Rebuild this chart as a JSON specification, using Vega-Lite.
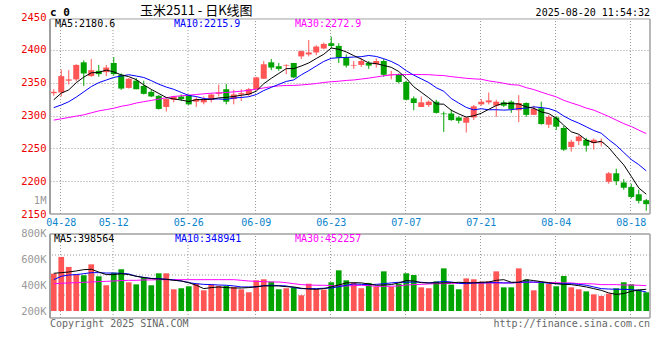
{
  "$schema": "https://vega.github.io/schema/vega-lite/v6.json",
  "autosize": "none",
  "width": 600,
  "height": 301,
  "padding": {"left": 50, "top": 17, "right": 10, "bottom": 42},
  "background": "white",
  "config": {"view": {"stroke": null}, "font": "DejaVu Sans Mono", "text": {"font": "DejaVu Sans Mono", "fontSize": 10}},
  "data": {"values": [
    {"d":"04-25","o":2334,"h":2340,"l":2330,"c":2336,"ma5":2324,"ma10":2312,"ma30":2293,"v":487000,"vma5":490000,"vma10":441000,"vma30":410000},
    {"d":"04-28","o":2335,"h":2370,"l":2329,"c":2360,"ma5":2334,"ma10":2316,"ma30":2295,"v":616000,"vma5":495000,"vma10":467000,"vma30":413000},
    {"d":"04-29","o":2353,"h":2369,"l":2347,"c":2355,"ma5":2339,"ma10":2321,"ma30":2297,"v":539000,"vma5":500000,"vma10":477000,"vma30":416000},
    {"d":"04-30","o":2355,"h":2378,"l":2352,"c":2377,"ma5":2350,"ma10":2328,"ma30":2299,"v":480000,"vma5":508000,"vma10":480000,"vma30":418000},
    {"d":"05-06","o":2381,"h":2384,"l":2345,"c":2364,"ma5":2358.4,"ma10":2336,"ma30":2301,"v":475000,"vma5":518000,"vma10":487000,"vma30":421000},
    {"d":"05-07","o":2360,"h":2386,"l":2359,"c":2369,"ma5":2365,"ma10":2344,"ma30":2304,"v":559000,"vma5":521000,"vma10":495000,"vma30":423000},
    {"d":"05-08","o":2368,"h":2377,"l":2359,"c":2363,"ma5":2365.6,"ma10":2350,"ma30":2307,"v":467000,"vma5":500000,"vma10":495000,"vma30":426000},
    {"d":"05-09","o":2366,"h":2377,"l":2360,"c":2373,"ma5":2369.2,"ma10":2354,"ma30":2309,"v":398000,"vma5":480000,"vma10":492000,"vma30":428000},
    {"d":"05-12","o":2380,"h":2389,"l":2361,"c":2363,"ma5":2366.4,"ma10":2358,"ma30":2311,"v":495000,"vma5":480000,"vma10":492000,"vma30":431000},
    {"d":"05-13","o":2362,"h":2364,"l":2339,"c":2341,"ma5":2361.8,"ma10":2360.1,"ma30":2314,"v":521000,"vma5":487000,"vma10":490000,"vma30":434000},
    {"d":"05-14","o":2342,"h":2357,"l":2341,"c":2356,"ma5":2359.2,"ma10":2362.1,"ma30":2316,"v":421000,"vma5":480000,"vma10":485000,"vma30":436000},
    {"d":"05-15","o":2353,"h":2357,"l":2340,"c":2340,"ma5":2354.6,"ma10":2360.1,"ma30":2319,"v":405000,"vma5":467000,"vma10":467000,"vma30":436000},
    {"d":"05-16","o":2345,"h":2353,"l":2332,"c":2333,"ma5":2346.6,"ma10":2357.9,"ma30":2321,"v":457000,"vma5":457000,"vma10":459000,"vma30":439000},
    {"d":"05-19","o":2336,"h":2339,"l":2328,"c":2329,"ma5":2339.8,"ma10":2353.1,"ma30":2323,"v":398000,"vma5":449000,"vma10":451000,"vma30":439000},
    {"d":"05-20","o":2330,"h":2331,"l":2309,"c":2310,"ma5":2333.6,"ma10":2347.7,"ma30":2325,"v":490000,"vma5":446000,"vma10":449000,"vma30":441000},
    {"d":"05-21","o":2313,"h":2328,"l":2306,"c":2325,"ma5":2327.4,"ma10":2343.3,"ma30":2327,"v":490000,"vma5":444000,"vma10":444000,"vma30":441000},
    {"d":"05-22","o":2324,"h":2330,"l":2320,"c":2329,"ma5":2325.2,"ma10":2339.9,"ma30":2329,"v":367000,"vma5":436000,"vma10":439000,"vma30":441000},
    {"d":"05-23","o":2329,"h":2332,"l":2322,"c":2325,"ma5":2323.6,"ma10":2335.1,"ma30":2330,"v":375000,"vma5":431000,"vma10":431000,"vma30":441000},
    {"d":"05-26","o":2331,"h":2332,"l":2316,"c":2317,"ma5":2321.2,"ma10":2330.5,"ma30":2331,"v":390000,"vma5":418000,"vma10":418000,"vma30":441000},
    {"d":"05-27","o":2321,"h":2328,"l":2313,"c":2325,"ma5":2324.2,"ma10":2328.9,"ma30":2332,"v":410000,"vma5":398000,"vma10":410000,"vma30":441000},
    {"d":"05-28","o":2320,"h":2329,"l":2317,"c":2325,"ma5":2324.2,"ma10":2325.8,"ma30":2333,"v":359000,"vma5":372000,"vma10":405000,"vma30":441000},
    {"d":"05-29","o":2324,"h":2334,"l":2320,"c":2332,"ma5":2324.8,"ma10":2325.0,"ma30":2334,"v":405000,"vma5":380000,"vma10":403000,"vma30":441000},
    {"d":"05-30","o":2333,"h":2347,"l":2329,"c":2335,"ma5":2326.8,"ma10":2325.2,"ma30":2334.5,"v":393000,"vma5":385000,"vma10":400000,"vma30":441000},
    {"d":"06-03","o":2340,"h":2348,"l":2317,"c":2321,"ma5":2327.6,"ma10":2324.4,"ma30":2335,"v":393000,"vma5":380000,"vma10":398000,"vma30":441000},
    {"d":"06-04","o":2325,"h":2339,"l":2317,"c":2332,"ma5":2329,"ma10":2326.6,"ma30":2336,"v":385000,"vma5":377000,"vma10":393000,"vma30":441000},
    {"d":"06-05","o":2332,"h":2340,"l":2322,"c":2334,"ma5":2330.8,"ma10":2327.5,"ma30":2337,"v":367000,"vma5":377000,"vma10":385000,"vma30":436000},
    {"d":"06-06","o":2332,"h":2342,"l":2330,"c":2340,"ma5":2332.4,"ma10":2328.6,"ma30":2338.5,"v":344000,"vma5":380000,"vma10":385000,"vma30":431000},
    {"d":"06-09","o":2340,"h":2359,"l":2340,"c":2358,"ma5":2337,"ma10":2331.9,"ma30":2340,"v":436000,"vma5":387000,"vma10":385000,"vma30":428000},
    {"d":"06-10","o":2356,"h":2383,"l":2356,"c":2378,"ma5":2348.4,"ma10":2338.0,"ma30":2342,"v":444000,"vma5":393000,"vma10":395000,"vma30":426000},
    {"d":"06-11","o":2381,"h":2386,"l":2369,"c":2373,"ma5":2356.6,"ma10":2342.8,"ma30":2343.9,"v":426000,"vma5":393000,"vma10":398000,"vma30":423000},
    {"d":"06-12","o":2375,"h":2380,"l":2368,"c":2371,"ma5":2364,"ma10":2347.4,"ma30":2345.1,"v":367000,"vma5":393000,"vma10":395000,"vma30":423000},
    {"d":"06-13","o":2376,"h":2378,"l":2363,"c":2377,"ma5":2371.4,"ma10":2351.9,"ma30":2345.7,"v":375000,"vma5":387000,"vma10":393000,"vma30":418000},
    {"d":"06-16","o":2380,"h":2380,"l":2357,"c":2358,"ma5":2371.4,"ma10":2354.2,"ma30":2345.8,"v":380000,"vma5":385000,"vma10":380000,"vma30":410000},
    {"d":"06-17","o":2390,"h":2399,"l":2386,"c":2398,"ma5":2375.4,"ma10":2361.9,"ma30":2346.5,"v":321000,"vma5":375000,"vma10":372000,"vma30":403000},
    {"d":"06-18","o":2393,"h":2415,"l":2390,"c":2396,"ma5":2380,"ma10":2368.3,"ma30":2347.5,"v":410000,"vma5":369000,"vma10":372000,"vma30":400000},
    {"d":"06-19","o":2396,"h":2407,"l":2392,"c":2405,"ma5":2386.8,"ma10":2375.4,"ma30":2348.7,"v":369000,"vma5":367000,"vma10":372000,"vma30":398000},
    {"d":"06-20","o":2402,"h":2411,"l":2401,"c":2409,"ma5":2393.2,"ma10":2382.3,"ma30":2350.3,"v":364000,"vma5":372000,"vma10":375000,"vma30":398000},
    {"d":"06-23","o":2410,"h":2420,"l":2402,"c":2406,"ma5":2402.8,"ma10":2387.1,"ma30":2351.4,"v":421000,"vma5":385000,"vma10":377000,"vma30":395000},
    {"d":"06-24","o":2406,"h":2410,"l":2380,"c":2388,"ma5":2400.8,"ma10":2388.1,"ma30":2352.2,"v":513000,"vma5":400000,"vma10":387000,"vma30":393000},
    {"d":"06-25","o":2389,"h":2393,"l":2373,"c":2376,"ma5":2396.8,"ma10":2388.4,"ma30":2353.4,"v":436000,"vma5":416000,"vma10":398000,"vma30":393000},
    {"d":"06-26","o":2376,"h":2383,"l":2371,"c":2377,"ma5":2391.2,"ma10":2389.0,"ma30":2354.1,"v":416000,"vma5":418000,"vma10":408000,"vma30":395000},
    {"d":"06-27","o":2377,"h":2387,"l":2374,"c":2383,"ma5":2386,"ma10":2389.6,"ma30":2355.5,"v":375000,"vma5":416000,"vma10":405000,"vma30":398000},
    {"d":"06-30","o":2380,"h":2383,"l":2371,"c":2376,"ma5":2380,"ma10":2391.4,"ma30":2356.9,"v":416000,"vma5":408000,"vma10":403000,"vma30":395000},
    {"d":"07-01","o":2378,"h":2387,"l":2373,"c":2383,"ma5":2379,"ma10":2389.9,"ma30":2358.7,"v":387000,"vma5":398000,"vma10":405000,"vma30":390000},
    {"d":"07-02","o":2383,"h":2386,"l":2359,"c":2362,"ma5":2376.2,"ma10":2386.5,"ma30":2360.5,"v":505000,"vma5":400000,"vma10":410000,"vma30":390000},
    {"d":"07-03","o":2362,"h":2368,"l":2355,"c":2363,"ma5":2373.4,"ma10":2382.3,"ma30":2361.7,"v":385000,"vma5":403000,"vma10":416000,"vma30":390000},
    {"d":"07-04","o":2363,"h":2364,"l":2349,"c":2351,"ma5":2367,"ma10":2376.5,"ma30":2362.5,"v":410000,"vma5":416000,"vma10":421000,"vma30":393000},
    {"d":"07-07","o":2351,"h":2353,"l":2323,"c":2324,"ma5":2356.6,"ma10":2368.3,"ma30":2362.4,"v":490000,"vma5":434000,"vma10":421000,"vma30":400000},
    {"d":"07-08","o":2326,"h":2329,"l":2308,"c":2319,"ma5":2343.8,"ma10":2361.4,"ma30":2362.5,"v":477000,"vma5":431000,"vma10":423000,"vma30":403000},
    {"d":"07-09","o":2313,"h":2329,"l":2313,"c":2320,"ma5":2335.4,"ma10":2355.8,"ma30":2362.3,"v":382000,"vma5":418000,"vma10":421000,"vma30":405000},
    {"d":"07-10","o":2316,"h":2323,"l":2313,"c":2321,"ma5":2327,"ma10":2350.2,"ma30":2362.2,"v":375000,"vma5":416000,"vma10":416000,"vma30":408000},
    {"d":"07-11","o":2321,"h":2324,"l":2303,"c":2304,"ma5":2317.6,"ma10":2342.3,"ma30":2361.3,"v":428000,"vma5":416000,"vma10":421000,"vma30":410000},
    {"d":"07-14","o":2303,"h":2306,"l":2275,"c":2302,"ma5":2317.2,"ma10":2336.9,"ma30":2360.8,"v":528000,"vma5":416000,"vma10":428000,"vma30":410000},
    {"d":"07-15","o":2303,"h":2309,"l":2292,"c":2293,"ma5":2308,"ma10":2325.9,"ma30":2359.2,"v":403000,"vma5":418000,"vma10":423000,"vma30":413000},
    {"d":"07-16","o":2297,"h":2299,"l":2288,"c":2292,"ma5":2302.4,"ma10":2318.9,"ma30":2357.9,"v":367000,"vma5":421000,"vma10":413000,"vma30":413000},
    {"d":"07-17","o":2289,"h":2298,"l":2274,"c":2297,"ma5":2297.6,"ma10":2312.3,"ma30":2356.7,"v":451000,"vma5":418000,"vma10":410000,"vma30":416000},
    {"d":"07-18","o":2297,"h":2316,"l":2293,"c":2314,"ma5":2299.6,"ma10":2308.6,"ma30":2355.8,"v":444000,"vma5":416000,"vma10":416000,"vma30":416000},
    {"d":"07-21","o":2317,"h":2325,"l":2315,"c":2321,"ma5":2303.4,"ma10":2310.3,"ma30":2355.2,"v":426000,"vma5":421000,"vma10":416000,"vma30":416000},
    {"d":"07-22","o":2320,"h":2335,"l":2317,"c":2323,"ma5":2309.4,"ma10":2308.7,"ma30":2352.7,"v":428000,"vma5":423000,"vma10":418000,"vma30":416000},
    {"d":"07-23","o":2315,"h":2324,"l":2298,"c":2321,"ma5":2315.2,"ma10":2308.8,"ma30":2351.0,"v":505000,"vma5":436000,"vma10":418000,"vma30":416000},
    {"d":"07-24","o":2320,"h":2323,"l":2313,"c":2315,"ma5":2318.8,"ma10":2308.2,"ma30":2349.1,"v":382000,"vma5":441000,"vma10":416000,"vma30":416000},
    {"d":"07-25","o":2321,"h":2323,"l":2304,"c":2310,"ma5":2318,"ma10":2308.8,"ma30":2346.9,"v":382000,"vma5":421000,"vma10":416000,"vma30":416000},
    {"d":"07-28","o":2308,"h":2331,"l":2290,"c":2319,"ma5":2317.6,"ma10":2310.5,"ma30":2346.3,"v":528000,"vma5":421000,"vma10":421000,"vma30":418000},
    {"d":"07-29","o":2319,"h":2320,"l":2298,"c":2301,"ma5":2313.2,"ma10":2311.3,"ma30":2342.4,"v":441000,"vma5":441000,"vma10":423000,"vma30":421000},
    {"d":"07-30","o":2301,"h":2315,"l":2301,"c":2310,"ma5":2311,"ma10":2313.1,"ma30":2339.5,"v":359000,"vma5":434000,"vma10":423000,"vma30":421000},
    {"d":"07-31","o":2311,"h":2321,"l":2286,"c":2287,"ma5":2305.4,"ma10":2312.1,"ma30":2335.6,"v":416000,"vma5":426000,"vma10":421000,"vma30":421000},
    {"d":"08-01","o":2286,"h":2301,"l":2281,"c":2298,"ma5":2303,"ma10":2310.5,"ma30":2331.9,"v":408000,"vma5":418000,"vma10":413000,"vma30":418000},
    {"d":"08-04","o":2297,"h":2299,"l":2278,"c":2283,"ma5":2295.8,"ma10":2306.7,"ma30":2328.4,"v":390000,"vma5":410000,"vma10":410000,"vma30":418000},
    {"d":"08-05","o":2281,"h":2284,"l":2246,"c":2248,"ma5":2285.2,"ma10":2299.2,"ma30":2323.1,"v":469000,"vma5":405000,"vma10":410000,"vma30":416000},
    {"d":"08-06","o":2252,"h":2263,"l":2245,"c":2260,"ma5":2275.2,"ma10":2293.1,"ma30":2319.2,"v":382000,"vma5":403000,"vma10":410000,"vma30":416000},
    {"d":"08-07","o":2261,"h":2270,"l":2255,"c":2268,"ma5":2271.4,"ma10":2288.4,"ma30":2315.6,"v":367000,"vma5":395000,"vma10":405000,"vma30":410000},
    {"d":"08-08","o":2263,"h":2266,"l":2245,"c":2254,"ma5":2262.6,"ma10":2282.8,"ma30":2311.3,"v":351000,"vma5":385000,"vma10":398000,"vma30":410000},
    {"d":"08-11","o":2258,"h":2265,"l":2248,"c":2263,"ma5":2258.6,"ma10":2277.2,"ma30":2308.2,"v":328000,"vma5":372000,"vma10":385000,"vma30":408000},
    {"d":"08-12","o":2258,"h":2265,"l":2253,"c":2259,"ma5":2260.8,"ma10":2273.0,"ma30":2303.4,"v":316000,"vma5":359000,"vma10":372000,"vma30":403000},
    {"d":"08-13","o":2199,"h":2214,"l":2196,"c":2212,"ma5":2251.2,"ma10":2263.2,"ma30":2298.4,"v":334000,"vma5":339000,"vma10":369000,"vma30":403000},
    {"d":"08-14","o":2212,"h":2219,"l":2194,"c":2200,"ma5":2237.6,"ma10":2254.5,"ma30":2293.0,"v":375000,"vma5":328000,"vma10":367000,"vma30":403000},
    {"d":"08-15","o":2198,"h":2203,"l":2187,"c":2190,"ma5":2224.8,"ma10":2243.7,"ma30":2287.6,"v":421000,"vma5":334000,"vma10":367000,"vma30":400000},
    {"d":"08-18","o":2191,"h":2196,"l":2174,"c":2176,"ma5":2207.4,"ma10":2233.0,"ma30":2283.3,"v":405000,"vma5":351000,"vma10":364000,"vma30":400000},
    {"d":"08-19","o":2180,"h":2187,"l":2166,"c":2170,"ma5":2189.6,"ma10":2225.2,"ma30":2277.7,"v":364000,"vma5":362000,"vma10":359000,"vma30":398000},
    {"d":"08-20","o":2171,"h":2173,"l":2155,"c":2165,"ma5":2180.2,"ma10":2215.7,"ma30":2272.5,"v":344000,"vma5":367000,"vma10":346000,"vma30":395000}
  ]},
  "layer": [
    {
      "layer": [
        {
          "transform": [{"filter": {"field": "d", "oneOf": ["04-28","05-12","05-26","06-09","06-23","07-07","07-21","08-04","08-18"]}}],
          "mark": {"type": "rule", "color": "#9a9a9a", "strokeDash": [1, 2], "strokeWidth": 1},
          "encoding": {
            "x": {"field": "d", "type": "ordinal", "bandPosition": 0.4,
                  "scale": {"type": "band", "paddingInner": 0, "paddingOuter": 0},
                  "axis": {"values": ["04-28","05-12","05-26","06-09","06-23","07-07","07-21","08-04","08-18"], "bandPosition": 0.4, "grid": false, "ticks": false, "tickSize": 0, "domain": false, "labelAngle": 0, "labelColor": "#0a84cc", "labelFont": "DejaVu Sans Mono", "labelFontSize": 10, "labelPadding": 3, "orient": "bottom", "offset": -104, "title": null}},
            "y": {"datum": 2150, "type": "quantitative",
                  "scale": {"domain": [2150, 2450], "range": [197, 0], "zero": false, "nice": false},
                  "axis": {"values": [2150, 2171, 2200, 2250, 2300, 2350, 2400, 2450], "format": "d", "labelExpr": "datum.value == 2171 ? '1M' : datum.label", "labelColor": {"condition": {"test": "datum.value == 2171", "value": "#999999"}, "value": "#ee0000"}, "grid": true, "gridColor": "#9a9a9a", "gridDash": [1, 2], "gridOpacity": {"condition": {"test": "datum.value == 2171 || datum.value == 2150 || datum.value == 2450", "value": 0}, "value": 1}, "domain": false, "ticks": false, "tickSize": 0, "labelPadding": 4, "labelFont": "DejaVu Sans Mono", "labelFontSize": 10.5, "title": null, "orient": "left"}},
            "y2": {"datum": 2447}
          }
        },
        {
          "mark": {"type": "rule", "strokeWidth": 1},
          "encoding": {
            "x": {"field": "d", "type": "ordinal"},
            "y": {"field": "l", "type": "quantitative"},
            "y2": {"field": "h"},
            "color": {"condition": {"test": "datum.c >= datum.o", "value": "#ff5555"}, "value": "#00a300"}
          }
        },
        {
          "mark": {"type": "bar", "width": {"band": 0.8}},
          "encoding": {
            "x": {"field": "d", "type": "ordinal"},
            "y": {"field": "o", "type": "quantitative"},
            "y2": {"field": "c"},
            "color": {"condition": {"test": "datum.c >= datum.o", "value": "#ff5555"}, "value": "#00a300"}
          }
        },
        {"mark": {"type": "line", "color": "#ff00ff", "strokeWidth": 1}, "encoding": {"x": {"field": "d", "type": "ordinal"}, "y": {"field": "ma30", "type": "quantitative"}}},
        {"mark": {"type": "line", "color": "#0000ff", "strokeWidth": 1}, "encoding": {"x": {"field": "d", "type": "ordinal"}, "y": {"field": "ma10", "type": "quantitative"}}},
        {"mark": {"type": "line", "color": "#000000", "strokeWidth": 1}, "encoding": {"x": {"field": "d", "type": "ordinal"}, "y": {"field": "ma5", "type": "quantitative"}}},
        {"data": {"values": [{}]}, "mark": {"type": "rule", "color": "#a0a0a0", "strokeWidth": 1}, "encoding": {"y": {"datum": 2447}}},
        {"data": {"values": [{}]}, "mark": {"type": "rule", "color": "#a0a0a0", "strokeWidth": 1.5}, "encoding": {"y": {"datum": 2150}}},
        {"data": {"values": [{}]}, "mark": {"type": "rule", "color": "#a0a0a0", "strokeWidth": 2}, "encoding": {"x": {"datum": "04-25", "type": "ordinal", "bandPosition": 0}, "y": {"datum": 2150}, "y2": {"datum": 2447}}},
        {"data": {"values": [{}]}, "mark": {"type": "rule", "color": "#a0a0a0", "strokeWidth": 1.5}, "encoding": {"x": {"datum": "08-20", "type": "ordinal", "bandPosition": 1}, "y": {"datum": 2150}, "y2": {"datum": 2447}}},
        {"data": {"values": [{}]}, "mark": {"type": "text", "text": "c 0", "fontSize": 11, "fontWeight": "bold", "align": "left", "baseline": "alphabetic", "dy": -1, "color": "#000000"}, "encoding": {"x": {"datum": "04-25", "type": "ordinal", "bandPosition": 0}, "y": {"datum": 2450}}},
        {"data": {"values": [{}]}, "mark": {"type": "text", "text": "玉米2511 - 日K线图", "font": "Noto Sans CJK SC", "fontSize": 13, "align": "left", "baseline": "alphabetic", "dx": 90, "dy": -2, "color": "#000000"}, "encoding": {"x": {"datum": "04-25", "type": "ordinal", "bandPosition": 0}, "y": {"datum": 2450}}},
        {"data": {"values": [{}]}, "mark": {"type": "text", "text": "2025-08-20 11:54:32", "fontSize": 10, "align": "right", "baseline": "alphabetic", "dy": -1, "color": "#000000"}, "encoding": {"x": {"datum": "08-20", "type": "ordinal", "bandPosition": 1}, "y": {"datum": 2450}}},
        {"data": {"values": [{}]}, "mark": {"type": "text", "text": "MA5:2180.6", "fontSize": 10, "align": "left", "baseline": "alphabetic", "dx": 5, "dy": 10, "color": "#000000"}, "encoding": {"x": {"datum": "04-25", "type": "ordinal", "bandPosition": 0}, "y": {"datum": 2450}}},
        {"data": {"values": [{}]}, "mark": {"type": "text", "text": "MA10:2215.9", "fontSize": 10, "align": "left", "baseline": "alphabetic", "dx": 124, "dy": 10, "color": "#0000ff"}, "encoding": {"x": {"datum": "04-25", "type": "ordinal", "bandPosition": 0}, "y": {"datum": 2450}}},
        {"data": {"values": [{}]}, "mark": {"type": "text", "text": "MA30:2272.9", "fontSize": 10, "align": "left", "baseline": "alphabetic", "dx": 245, "dy": 10, "color": "#ff00ff"}, "encoding": {"x": {"datum": "04-25", "type": "ordinal", "bandPosition": 0}, "y": {"datum": 2450}}}
      ]
    },
    {
      "layer": [
        {
          "transform": [{"filter": {"field": "d", "oneOf": ["04-28","05-12","05-26","06-09","06-23","07-07","07-21","08-04","08-18"]}}],
          "mark": {"type": "rule", "color": "#9a9a9a", "strokeDash": [1, 2], "strokeWidth": 1},
          "encoding": {
            "x": {"field": "d", "type": "ordinal", "bandPosition": 0.4},
            "y": {"datum": 146154, "type": "quantitative",
                  "scale": {"domain": [146154, 800000], "range": [301, 216], "zero": false, "nice": false},
                  "axis": {"values": [200000, 400000, 600000, 800000], "labelExpr": "(datum.value / 1000) + 'K'", "labelColor": "#999999", "grid": false, "domain": false, "ticks": false, "tickSize": 0, "labelPadding": 4, "labelFont": "DejaVu Sans Mono", "labelFontSize": 10.5, "title": null, "orient": "left"}},
            "y2": {"datum": 792300}
          }
        },
        {"data": {"values": [{}]}, "mark": {"type": "rule", "color": "#9a9a9a", "strokeDash": [1, 2], "strokeWidth": 1}, "encoding": {"y": {"datum": 630769}}},
        {"data": {"values": [{}]}, "mark": {"type": "rule", "color": "#9a9a9a", "strokeDash": [1, 2], "strokeWidth": 1}, "encoding": {"y": {"datum": 476923}}},
        {"data": {"values": [{}]}, "mark": {"type": "rule", "color": "#9a9a9a", "strokeDash": [1, 2], "strokeWidth": 1}, "encoding": {"y": {"datum": 323077}}},
        {
          "mark": {"type": "bar", "width": {"band": 0.76}},
          "encoding": {
            "x": {"field": "d", "type": "ordinal"},
            "y": {"field": "v", "type": "quantitative"},
            "y2": {"datum": 200000},
            "color": {"condition": {"test": "datum.c >= datum.o", "value": "#ff5555"}, "value": "#00a300"}
          }
        },
        {"mark": {"type": "line", "color": "#ff00ff", "strokeWidth": 1}, "encoding": {"x": {"field": "d", "type": "ordinal"}, "y": {"field": "vma30", "type": "quantitative"}}},
        {"mark": {"type": "line", "color": "#0000ff", "strokeWidth": 1}, "encoding": {"x": {"field": "d", "type": "ordinal"}, "y": {"field": "vma10", "type": "quantitative"}}},
        {"mark": {"type": "line", "color": "#000000", "strokeWidth": 1}, "encoding": {"x": {"field": "d", "type": "ordinal"}, "y": {"field": "vma5", "type": "quantitative"}}},
        {"data": {"values": [{}]}, "mark": {"type": "rule", "color": "#a0a0a0", "strokeWidth": 1.5}, "encoding": {"y": {"datum": 792300}}},
        {"data": {"values": [{}]}, "mark": {"type": "rule", "color": "#a0a0a0", "strokeWidth": 1.5}, "encoding": {"y": {"datum": 146154}}},
        {"data": {"values": [{}]}, "mark": {"type": "rule", "color": "#a0a0a0", "strokeWidth": 2}, "encoding": {"x": {"datum": "04-25", "type": "ordinal", "bandPosition": 0}, "y": {"datum": 146154}, "y2": {"datum": 792300}}},
        {"data": {"values": [{}]}, "mark": {"type": "rule", "color": "#a0a0a0", "strokeWidth": 1.5}, "encoding": {"x": {"datum": "08-20", "type": "ordinal", "bandPosition": 1}, "y": {"datum": 146154}, "y2": {"datum": 792300}}},
        {"data": {"values": [{}]}, "mark": {"type": "text", "text": "MA5:398564", "fontSize": 10, "align": "left", "baseline": "alphabetic", "dx": 4, "dy": 9, "color": "#000000"}, "encoding": {"x": {"datum": "04-25", "type": "ordinal", "bandPosition": 0}, "y": {"datum": 800000}}},
        {"data": {"values": [{}]}, "mark": {"type": "text", "text": "MA10:348941", "fontSize": 10, "align": "left", "baseline": "alphabetic", "dx": 125, "dy": 9, "color": "#0000ff"}, "encoding": {"x": {"datum": "04-25", "type": "ordinal", "bandPosition": 0}, "y": {"datum": 800000}}},
        {"data": {"values": [{}]}, "mark": {"type": "text", "text": "MA30:452257", "fontSize": 10, "align": "left", "baseline": "alphabetic", "dx": 245, "dy": 9, "color": "#ff00ff"}, "encoding": {"x": {"datum": "04-25", "type": "ordinal", "bandPosition": 0}, "y": {"datum": 800000}}},
        {"data": {"values": [{}]}, "mark": {"type": "text", "text": "Copyright 2025 SINA.COM", "fontSize": 10, "align": "left", "baseline": "alphabetic", "dy": 9, "color": "#666666"}, "encoding": {"x": {"datum": "04-25", "type": "ordinal", "bandPosition": 0}, "y": {"datum": 146154}}},
        {"data": {"values": [{}]}, "mark": {"type": "text", "text": "http://finance.sina.com.cn", "fontSize": 10, "align": "right", "baseline": "alphabetic", "dy": 9, "color": "#666666"}, "encoding": {"x": {"datum": "08-20", "type": "ordinal", "bandPosition": 1}, "y": {"datum": 146154}}}
      ]
    }
  ],
  "resolve": {"scale": {"y": "independent"}, "axis": {"y": "independent"}}
}
